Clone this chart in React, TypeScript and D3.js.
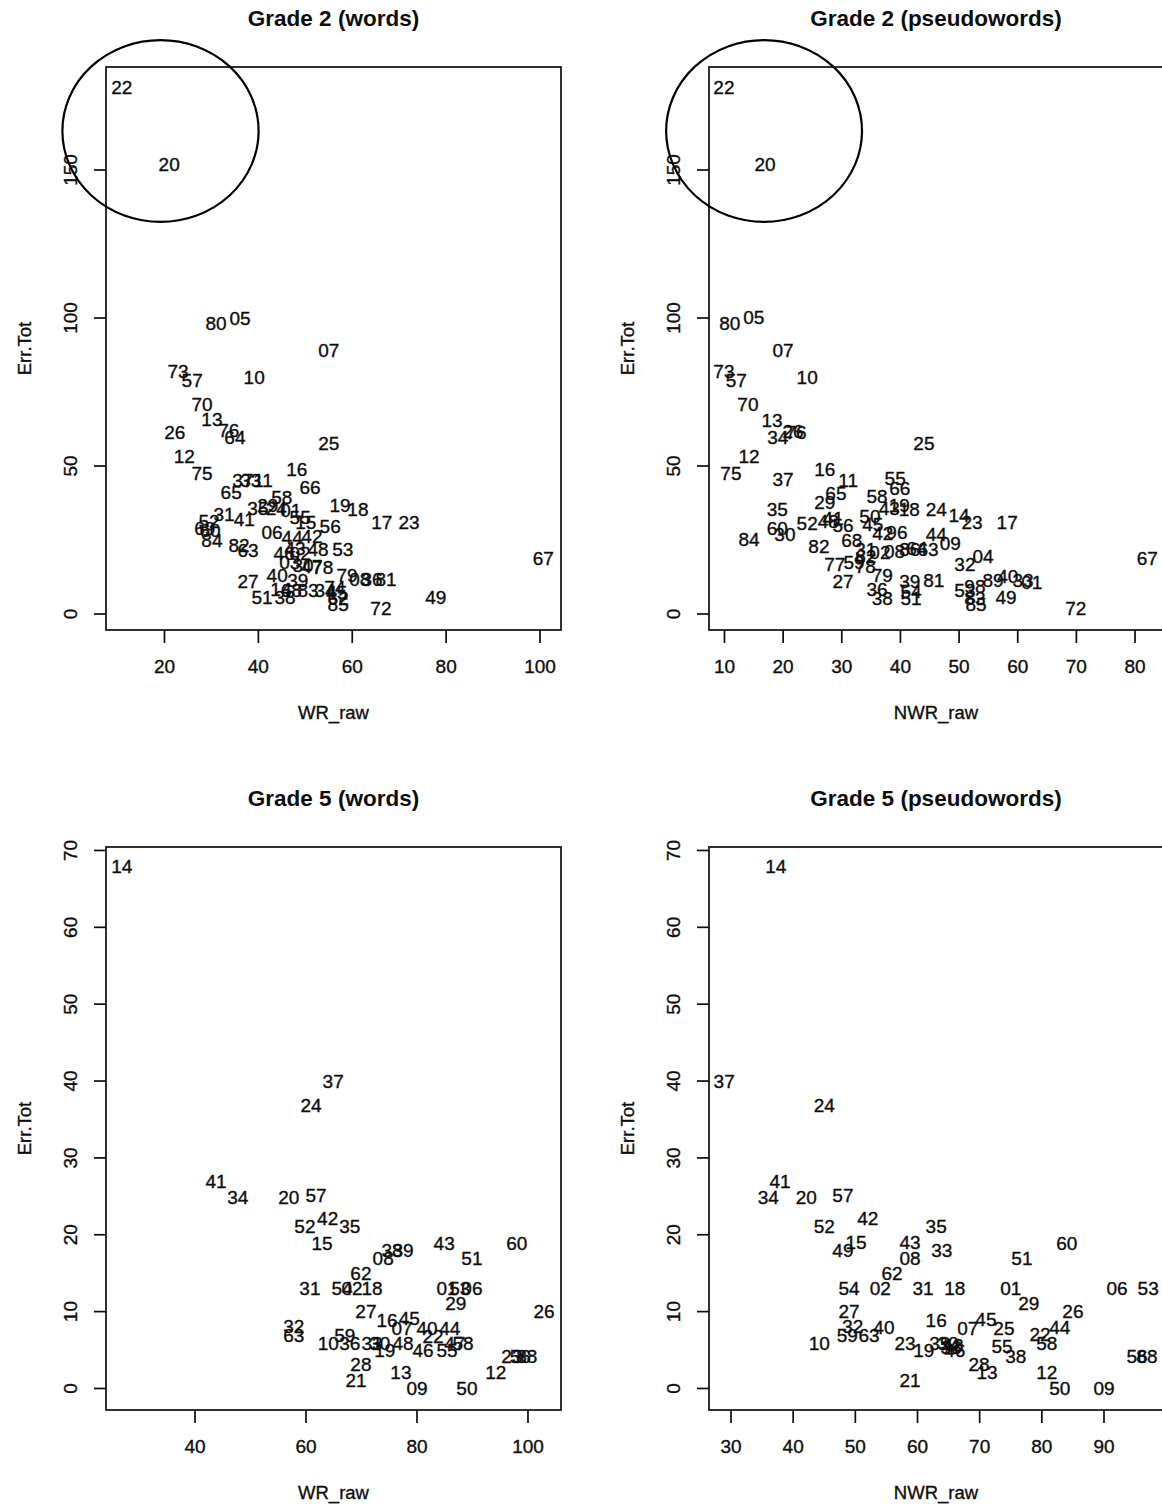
import React from "react";
import * as d3 from "d3";

type Pt = [string, number, number];

// Grade 2 words: [id, WR_raw, Err.Tot]
const grade2Words: Pt[] = [
  ["22", 10.9, 178.0], ["20", 21.0, 152.0], ["80", 31.0, 98.3], ["05", 36.1, 100.0],
  ["07", 55.0, 89.0], ["73", 22.9, 82.1], ["57", 25.9, 79.1], ["10", 39.1, 80.1],
  ["70", 28.0, 70.9], ["13", 30.1, 65.9], ["76", 33.7, 62.2], ["64", 35.0, 59.8],
  ["26", 22.2, 61.5], ["12", 24.2, 53.4], ["75", 28.0, 47.6], ["25", 55.0, 57.8],
  ["16", 48.2, 49.0], ["37", 36.7, 45.3], ["33", 38.4, 45.3], ["11", 41.0, 45.3],
  ["65", 34.2, 41.2], ["66", 51.0, 42.9], ["58", 45.0, 39.5], ["19", 57.4, 36.8],
  ["18", 61.2, 35.5], ["17", 66.3, 31.1], ["23", 72.1, 31.1], ["31", 32.7, 33.8],
  ["41", 37.0, 32.1], ["35", 39.9, 35.8], ["29", 42.0, 36.8], ["24", 43.8, 35.8],
  ["01", 46.9, 35.1], ["55", 48.9, 32.8], ["15", 50.1, 31.1], ["56", 55.3, 29.7],
  ["06", 42.9, 27.7], ["52", 29.5, 31.4], ["69", 28.6, 29.1], ["60", 29.7, 28.4],
  ["84", 30.1, 25.0], ["82", 35.9, 23.3], ["63", 37.8, 21.6], ["53", 58.0, 22.0],
  ["44", 47.2, 26.0], ["42", 51.4, 26.4], ["43", 47.8, 22.3], ["48", 52.7, 22.0],
  ["46", 45.5, 20.6], ["02", 48.9, 20.6], ["03", 46.7, 17.6], ["30", 49.5, 16.6],
  ["47", 51.4, 16.2], ["78", 53.7, 15.9], ["40", 44.0, 13.2], ["39", 48.4, 11.5],
  ["79", 58.9, 13.2], ["08", 61.6, 11.8], ["36", 64.2, 11.8], ["81", 67.2, 11.8],
  ["27", 37.8, 11.1], ["51", 40.8, 5.7], ["38", 45.7, 5.7], ["68", 47.0, 8.1],
  ["14", 44.8, 8.4], ["83", 50.6, 8.1], ["34", 54.2, 8.1], ["74", 56.3, 9.1],
  ["45", 56.7, 7.4], ["62", 57.0, 5.4], ["85", 57.0, 3.4], ["72", 66.1, 2.0],
  ["49", 77.8, 5.7], ["67", 100.7, 18.9],
];

// Grade 2 pseudowords: [id, NWR_raw, Err.Tot]
const grade2Pseudo: Pt[] = [
  ["22", 9.9, 178.0], ["20", 16.9, 152.0], ["80", 10.9, 98.3], ["05", 15.0, 100.3],
  ["07", 20.0, 89.0], ["73", 9.9, 82.1], ["57", 12.0, 79.1], ["10", 24.1, 80.1],
  ["70", 14.0, 70.9], ["13", 18.1, 65.5], ["34", 19.1, 59.8], ["26", 21.7, 61.8],
  ["76", 22.2, 61.5], ["12", 14.2, 53.4], ["75", 11.1, 47.6], ["37", 20.0, 45.6],
  ["25", 44.0, 57.8], ["16", 27.1, 49.0], ["11", 31.1, 45.3], ["55", 39.1, 45.9],
  ["66", 39.9, 42.6], ["65", 29.0, 40.9], ["29", 27.1, 37.8], ["58", 36.0, 39.9],
  ["43", 38.1, 35.8], ["19", 39.8, 36.8], ["18", 41.5, 35.5], ["24", 46.1, 35.5],
  ["14", 50.0, 33.4], ["23", 52.2, 31.1], ["17", 58.2, 31.1], ["35", 19.0, 35.5],
  ["52", 24.1, 30.7], ["48", 27.7, 31.4], ["41", 28.5, 32.4], ["56", 30.2, 30.1],
  ["50", 34.8, 33.1], ["45", 35.3, 30.4], ["60", 19.0, 29.1], ["30", 20.3, 27.0],
  ["84", 14.2, 25.3], ["82", 26.1, 23.0], ["68", 31.7, 25.0], ["42", 37.0, 27.4],
  ["96", 39.4, 27.7], ["44", 46.1, 27.0], ["09", 48.5, 24.0], ["64", 42.8, 22.3],
  ["63", 44.7, 22.0], ["31", 34.1, 22.0], ["02", 36.5, 20.9], ["08", 39.0, 21.3],
  ["86", 41.6, 22.0], ["62", 34.1, 19.6], ["32", 51.0, 16.9], ["04", 54.1, 19.6],
  ["77", 28.8, 16.9], ["59", 32.1, 17.6], ["78", 34.0, 16.2], ["79", 36.9, 13.2],
  ["27", 30.2, 11.1], ["36", 36.0, 8.4], ["38", 36.9, 5.4], ["39", 41.6, 11.1],
  ["81", 45.7, 11.5], ["54", 41.8, 7.8], ["51", 41.8, 5.4], ["53", 51.0, 8.1],
  ["98", 52.7, 9.5], ["83", 52.7, 5.4], ["85", 52.9, 3.4], ["89", 55.8, 11.5],
  ["40", 58.3, 12.8], ["33", 60.9, 11.5], ["01", 62.4, 10.8], ["49", 58.0, 5.7],
  ["72", 69.9, 2.0], ["67", 82.1, 18.9],
];

// Grade 5 words: [id, WR_raw, Err.Tot]
const grade5Words: Pt[] = [
  ["14", 26.8, 68.0], ["37", 64.9, 40.0], ["24", 60.9, 36.9], ["41", 43.8, 27.0],
  ["34", 47.7, 24.9], ["20", 56.9, 24.9], ["57", 61.8, 25.2], ["52", 59.8, 21.1],
  ["42", 63.9, 22.2], ["35", 67.9, 21.1], ["15", 62.9, 18.9], ["38", 75.5, 18.0],
  ["39", 77.5, 18.0], ["08", 73.9, 17.0], ["43", 84.9, 18.9], ["51", 89.9, 17.0],
  ["60", 98.0, 18.9], ["62", 69.9, 15.0], ["31", 60.7, 13.1], ["54", 66.5, 13.1],
  ["02", 68.3, 13.1], ["18", 71.9, 13.1], ["01", 85.4, 13.1], ["53", 87.7, 13.1],
  ["06", 89.9, 13.1], ["29", 87.0, 11.1], ["26", 102.9, 10.1], ["27", 70.8, 10.1],
  ["16", 74.6, 8.9], ["45", 78.6, 9.2], ["07", 77.3, 7.9], ["40", 81.8, 7.9],
  ["44", 85.9, 7.9], ["32", 57.8, 8.1], ["63", 57.8, 7.0], ["59", 67.0, 7.0],
  ["10", 64.0, 5.9], ["36", 67.9, 5.9], ["33", 71.9, 5.9], ["30", 73.3, 5.9],
  ["19", 74.2, 5.0], ["48", 77.5, 5.9], ["46", 81.1, 5.0], ["22", 82.9, 6.8],
  ["55", 85.4, 5.0], ["47", 86.8, 5.9], ["58", 88.3, 5.9], ["28", 69.9, 3.2],
  ["21", 69.0, 1.1], ["13", 77.1, 2.1], ["09", 80.0, 0.1], ["50", 89.0, 0.1],
  ["12", 94.2, 2.1], ["23", 97.1, 4.2], ["56", 98.6, 4.2], ["88", 99.8, 4.2],
];

// Grade 5 pseudowords: [id, NWR_raw, Err.Tot]
const grade5Pseudo: Pt[] = [
  ["14", 37.2, 68.0], ["37", 28.9, 40.0], ["24", 45.0, 36.9], ["41", 37.9, 27.0],
  ["34", 36.0, 24.9], ["20", 42.1, 24.9], ["57", 48.0, 25.2], ["52", 45.0, 21.1],
  ["42", 52.0, 22.2], ["35", 63.0, 21.1], ["15", 50.1, 19.1], ["49", 48.0, 18.0],
  ["43", 58.8, 19.1], ["08", 58.8, 17.0], ["33", 63.9, 18.0], ["51", 76.8, 17.0],
  ["60", 84.0, 18.9], ["62", 55.9, 15.0], ["54", 49.0, 13.1], ["02", 54.0, 13.1],
  ["31", 60.9, 13.1], ["18", 66.0, 13.1], ["01", 75.0, 13.1], ["06", 92.1, 13.1],
  ["53", 97.1, 13.1], ["29", 77.9, 11.1], ["26", 85.0, 10.1], ["27", 49.0, 10.1],
  ["16", 63.0, 8.9], ["32", 49.6, 8.1], ["40", 54.6, 8.0], ["07", 68.1, 7.9],
  ["45", 71.0, 9.0], ["25", 73.9, 7.9], ["22", 79.7, 7.1], ["44", 82.9, 8.0],
  ["58", 80.8, 5.9], ["59", 48.7, 7.0], ["63", 52.2, 7.0], ["10", 44.2, 5.9],
  ["23", 58.0, 5.9], ["19", 61.0, 5.0], ["39", 63.6, 5.9], ["30", 64.9, 5.9],
  ["48", 65.7, 5.7], ["46", 66.0, 5.0], ["36", 65.4, 5.4], ["55", 73.6, 5.5],
  ["38", 75.8, 4.2], ["28", 69.9, 3.2], ["13", 71.2, 2.1], ["21", 58.8, 1.1],
  ["12", 80.8, 2.1], ["50", 82.9, 0.1], ["09", 90.0, 0.1], ["56", 95.3, 4.2],
  ["88", 96.9, 4.2],
];

const ticksG2Words = [20, 40, 60, 80, 100];
const ticksG2Pseudo = [10, 20, 30, 40, 50, 60, 70, 80];
const ticksG5Words = [40, 60, 80, 100];
const ticksG5Pseudo = [30, 40, 50, 60, 70, 80, 90];
const ticksErrG2 = [0, 50, 100, 150];
const ticksErrG5 = [0, 10, 20, 30, 40, 50, 60, 70];

// highlight ellipse around outliers: [cx, cy, rx, ry] in data units
const circleG2Words = [19.15, 163.2, 20.9, 30.7];
const circleG2Pseudo = [16.75, 163.2, 16.7, 30.7];

const FONT = "'Liberation Sans', Arial, Helvetica, sans-serif";
const INK = "#0d0d0d";

interface PanelProps {
  data: Pt[];
  left: number;
  top: number;
  width: number;
  height: number;
  xDomain: [number, number];
  yDomain: [number, number];
  xTicks: number[];
  yTicks: number[];
  title: string;
  xLabel: string;
  yLabel: string;
  circle?: number[];
}

function Panel(p: PanelProps) {
  const x = d3.scaleLinear().domain(p.xDomain).range([p.left, p.left + p.width]);
  const y = d3.scaleLinear().domain(p.yDomain).range([p.top + p.height, p.top]);
  const bottom = p.top + p.height;
  const cx = p.left + p.width / 2;
  const cy = p.top + p.height / 2;
  const txt = { fontFamily: FONT, fill: INK, stroke: INK, strokeWidth: 0.35 };
  return (
    <g>
      <text x={cx} y={p.top - 49} dy="0.36em" textAnchor="middle" fontFamily={FONT}
        fontWeight="bold" fontSize={22.5} fill={INK}>{p.title}</text>
      <rect x={p.left} y={p.top} width={p.width} height={p.height} fill="none"
        stroke={INK} strokeWidth={1.7} />
      {p.xTicks.map((t) => (
        <g key={"xt" + t}>
          <line x1={x(t)} x2={x(t)} y1={bottom} y2={bottom + 13} stroke={INK} strokeWidth={1.7} />
          <text x={x(t)} y={bottom + 36} dy="0.36em" textAnchor="middle" fontSize={19} {...txt}>{t}</text>
        </g>
      ))}
      {p.yTicks.map((t) => (
        <g key={"yt" + t}>
          <line x1={p.left - 12} x2={p.left} y1={y(t)} y2={y(t)} stroke={INK} strokeWidth={1.7} />
          <text transform={`translate(${p.left - 36},${y(t)}) rotate(-90)`} dy="0.36em"
            textAnchor="middle" fontSize={19} {...txt}>{t}</text>
        </g>
      ))}
      <text x={cx} y={bottom + 82} dy="0.36em" textAnchor="middle" fontSize={18.5} {...txt}>{p.xLabel}</text>
      <text transform={`translate(${p.left - 82},${cy}) rotate(-90)`} dy="0.36em"
        textAnchor="middle" fontSize={18.5} {...txt}>{p.yLabel}</text>
      {p.data.map((d, i) => (
        <text key={i} x={x(d[1])} y={y(d[2])} dy="0.36em" textAnchor="middle"
          fontSize={19} {...txt}>{d[0]}</text>
      ))}
      {p.circle && (
        <ellipse cx={x(p.circle[0])} cy={y(p.circle[1])}
          rx={Math.abs(x(p.circle[0] + p.circle[2]) - x(p.circle[0]))}
          ry={Math.abs(y(p.circle[1] + p.circle[3]) - y(p.circle[1]))}
          fill="none" stroke="#000" strokeWidth={2.2} />
      )}
    </g>
  );
}

export default function App() {
  return (
    <svg width={1162} height={1504} style={{ position: "absolute", left: 0, top: 0, background: "#fff" }}>
      <rect x={0} y={0} width={1162} height={1504} fill="#fff" />
      <Panel data={grade2Words} left={106} top={67} width={455} height={563}
        xDomain={[7.54, 104.47]} yDomain={[-5.4, 184.8]} xTicks={ticksG2Words} yTicks={ticksErrG2}
        title="Grade 2 (words)" xLabel="WR_raw" yLabel="Err.Tot" circle={circleG2Words} />
      <Panel data={grade2Pseudo} left={709} top={67} width={454} height={563}
        xDomain={[7.36, 84.77]} yDomain={[-5.4, 184.8]} xTicks={ticksG2Pseudo} yTicks={ticksErrG2}
        title="Grade 2 (pseudowords)" xLabel="NWR_raw" yLabel="Err.Tot" circle={circleG2Pseudo} />
      <Panel data={grade5Words} left={106} top={847} width={455} height={563}
        xDomain={[23.96, 105.95]} yDomain={[-2.8, 70.45]} xTicks={ticksG5Words} yTicks={ticksErrG5}
        title="Grade 5 (words)" xLabel="WR_raw" yLabel="Err.Tot" />
      <Panel data={grade5Pseudo} left={709} top={847} width={454} height={563}
        xDomain={[26.46, 99.49]} yDomain={[-2.8, 70.45]} xTicks={ticksG5Pseudo} yTicks={ticksErrG5}
        title="Grade 5 (pseudowords)" xLabel="NWR_raw" yLabel="Err.Tot" />
    </svg>
  );
}
